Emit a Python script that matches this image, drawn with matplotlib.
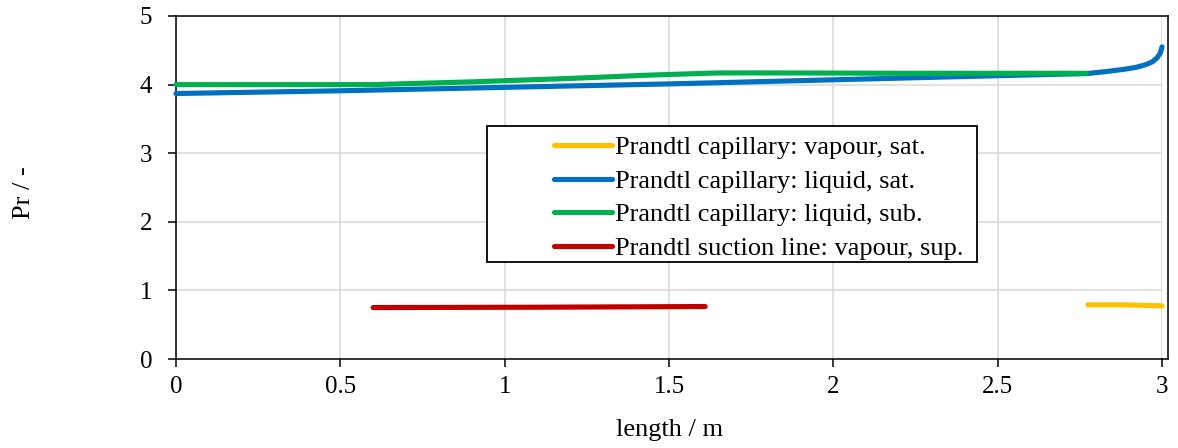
import matplotlib
matplotlib.use("Agg")
import matplotlib.pyplot as plt
from matplotlib.patches import Rectangle

plt.rcParams['font.family'] = ['Liberation Serif', 'DejaVu Serif']

# ---- data ----
x_vap_sat = [2.775, 2.88, 3.0]
pr_vap_sat = [0.79, 0.79, 0.775]

x_liq_sat = [0.0, 0.5, 1.0, 1.5, 2.0, 2.5, 2.77, 2.83, 2.88, 2.92, 2.95, 2.97, 2.985, 2.995, 3.0]
pr_liq_sat = [3.87, 3.91, 3.96, 4.01, 4.07, 4.13, 4.16, 4.19, 4.22, 4.25, 4.29, 4.33, 4.39, 4.46, 4.55]

x_liq_sub = [0.0, 0.6, 0.9, 1.2, 1.45, 1.65, 1.85, 2.2, 2.77]
pr_liq_sub = [4.0, 4.0, 4.04, 4.09, 4.14, 4.17, 4.17, 4.165, 4.165]

x_suction = [0.6, 1.1, 1.61]
pr_suction = [0.75, 0.755, 0.765]

labels = ["Prandtl capillary: vapour, sat.",
          "Prandtl capillary: liquid, sat.",
          "Prandtl capillary: liquid, sub.",
          "Prandtl suction line: vapour, sup."]
colors = ["#FFC000", "#0070C0", "#00B050", "#C00000"]
xticks = [0, 0.5, 1, 1.5, 2, 2.5, 3]
xticklabels = ["0", "0.5", "1", "1.5", "2", "2.5", "3"]
yticks = [0, 1, 2, 3, 4, 5]

W, H = 1178, 448
fig = plt.figure(figsize=(W / 100, H / 100), dpi=100)
L, R, B, T = 176, 1162, 359, 16
ax = fig.add_axes([L / W, 1 - B / H, (R - L) / W, (B - T) / H])

lw = 3.7
ax.plot(x_vap_sat, pr_vap_sat, color=colors[0], lw=lw, solid_capstyle='round', solid_joinstyle='round', label=labels[0], zorder=3, clip_on=False)
ax.plot(x_liq_sat, pr_liq_sat, color=colors[1], lw=lw, solid_capstyle='round', solid_joinstyle='round', label=labels[1], zorder=3, clip_on=False)
ax.plot(x_liq_sub, pr_liq_sub, color=colors[2], lw=lw, solid_capstyle='round', solid_joinstyle='round', label=labels[2], zorder=4, clip_on=False)
ax.plot(x_suction, pr_suction, color=colors[3], lw=lw, solid_capstyle='round', solid_joinstyle='round', label=labels[3], zorder=3, clip_on=False)

ax.set_xlim(0, 3)
ax.set_ylim(0, 5)
ax.set_xticks(xticks)
ax.set_xticklabels(xticklabels)
ax.set_yticks(yticks)
ax.grid(True, color="#d9d9d9", lw=1.1, zorder=0)
ax.set_axisbelow(True)
for s in ['top', 'right']:
    ax.spines[s].set_visible(False)
for s in ['left', 'bottom']:
    ax.spines[s].set_linewidth(1.1)
    ax.spines[s].set_color('black')
ax.tick_params(direction='out', length=6, width=1.1, labelsize=18, color='black')
ax.tick_params(axis='y', pad=11)
ax.tick_params(axis='x', pad=6)

# plot-area border (top and right)
fig.add_artist(plt.Line2D([L / W, 1168 / W], [1 - T / H, 1 - T / H], color='black', lw=1.1, transform=fig.transFigure))
fig.add_artist(plt.Line2D([1168 / W, 1168 / W], [1 - T / H, 1 - B / H], color='black', lw=1.1, transform=fig.transFigure))
fig.add_artist(plt.Line2D([R / W, 1168 / W], [1 - B / H, 1 - B / H], color='black', lw=1.1, transform=fig.transFigure))

# legend
leg = fig.legend(loc='upper left', bbox_to_anchor=(554 / W, 1 - 136 / H), frameon=False,
                 fontsize=19, handlelength=2.2, handletextpad=0.1, labelspacing=0.38,
                 borderpad=0, borderaxespad=0)
fig.add_artist(Rectangle((487 / W, 1 - 262 / H), (977 - 487) / W, (262 - 126) / H,
                         transform=fig.transFigure, fill=True, facecolor='white',
                         edgecolor='black', lw=1.3, zorder=2))
leg.set_zorder(5)

fig.text(24 / W, 1 - 193 / H, "Pr / -", rotation=90, ha='center', va='center', fontsize=19)
fig.text(670 / W, 1 - 430 / H, "length / m", ha='center', va='center', fontsize=19)

fig.savefig("out.png", dpi=100)
